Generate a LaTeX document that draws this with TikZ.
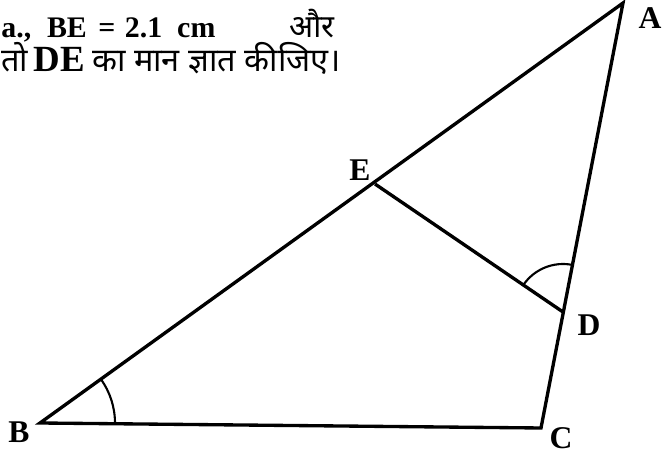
\documentclass[tikz,border=0pt]{standalone}
\usepackage{fontspec}
\setmainfont{Liberation Serif}
\newfontfamily\hindi[Script=Devanagari]{Noto Sans}
\tikzset{
  lbl/.style={font=\fontsize{18}{22}\selectfont\bfseries},
  txt/.style={font=\fontsize{17}{20}\selectfont\bfseries,anchor=base west,inner sep=0pt},
  side/.style={line width=1.9pt},
  angarc/.style={line width=1.2pt}
}
\begin{document}
\begin{tikzpicture}[x=0.02cm,y=0.02cm]
\clip (0,0) rectangle (663,459);
\coordinate (A) at (623,456);
\coordinate (B) at (40,36);
\coordinate (C) at (541,31);
\coordinate (E) at (375,275);
\coordinate (D) at (563,147);
\draw[side] (A) -- (B) -- (C) -- cycle;
\draw[side] (E) -- (D);
% angle marks
\draw[angarc] (B) ++(-0.6:1.5cm) arc[start angle=-0.6,end angle=35.8,radius=1.5cm];
\draw[angarc] (D) ++(79:0.96cm) arc[start angle=79,end angle=145.8,radius=0.96cm];
% vertex names
\node[lbl] (lA) at (650,441) {A};
\node[lbl] (lB) at (19,27) {B};
\node[lbl] (lC) at (561,21) {C};
\node[lbl] (lD) at (589,134) {D};
\node[lbl] (lE) at (360,289) {E};
% text
\node[txt] (line2) at (1,421) {a.,\hspace{9pt}BE\hspace{6.5pt}=\hspace{5.5pt}2.1\hspace{8.5pt}cm\hspace{42pt}{\hindi\fontsize{18}{20}\selectfont और}};
\node[txt] (line3) at (1,387) {{\hindi\fontsize{18.5}{20}\selectfont तो}\hspace{3pt}{\fontsize{21}{22}\selectfont DE} {\hindi\fontsize{18.5}{20}\selectfont का मान ज्ञात कीजिए।}};
\end{tikzpicture}
\end{document}
